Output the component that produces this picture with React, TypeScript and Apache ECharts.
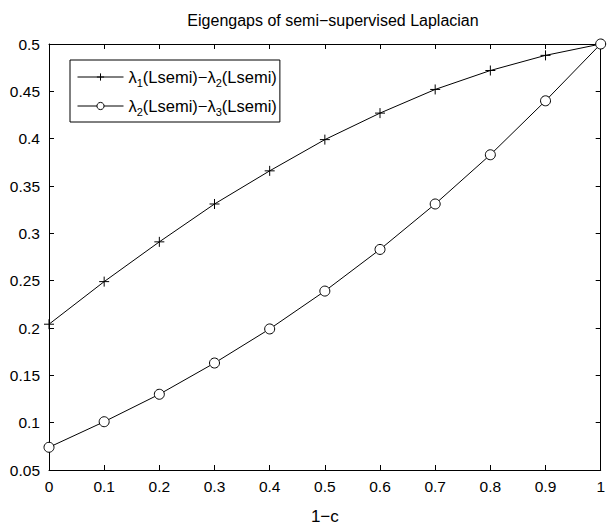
import React, { useEffect, useRef } from "react";
import * as echarts from "echarts";

const xValues = [0, 0.1, 0.2, 0.3, 0.4, 0.5, 0.6, 0.7, 0.8, 0.9, 1];
const gap12 = [0.204, 0.249, 0.291, 0.331, 0.366, 0.399, 0.427, 0.452, 0.472, 0.488, 0.5];
const gap23 = [0.074, 0.101, 0.130, 0.163, 0.199, 0.239, 0.283, 0.331, 0.383, 0.440, 0.5];
const seriesNames = ["λ1(Lsemi)−λ2(Lsemi)", "λ2(Lsemi)−λ3(Lsemi)"];
const legendRich = [
  "{t|λ}{s|1}{t|(Lsemi)−λ}{s|2}{t|(Lsemi)}",
  "{t|λ}{s|2}{t|(Lsemi)−λ}{s|3}{t|(Lsemi)}",
];
const titleText = "Eigengaps of semi−supervised Laplacian";
const xName = "1−c";

const FONT = "Liberation Sans, Arial, Helvetica, sans-serif";

function fmt(v: number) {
  return parseFloat(v.toFixed(2)).toString();
}

export default function App() {
  const ref = useRef<HTMLDivElement>(null);
  useEffect(() => {
    if (!ref.current) return;
    const chart = echarts.init(ref.current, undefined, { renderer: "svg" });
    const toPairs = (ys: number[]) => xValues.map((x, i) => [x, ys[i]]);
    const axisCommon = {
      type: "value" as const,
      axisLine: { show: true, onZero: false, lineStyle: { color: "#000", width: 1 } },
      axisTick: { show: true, inside: true, length: 5, lineStyle: { color: "#000" } },
      splitLine: { show: false },
    };
    chart.setOption({
      animation: false,
      backgroundColor: "#fff",
      title: {
        text: titleText,
        left: 328,
        textAlign: "center",
        top: 7,
        textStyle: { fontFamily: FONT, fontSize: 16, fontWeight: "normal", color: "#000" },
      },
      grid: { left: 49, right: 5, top: 44, bottom: 49, containLabel: false },
      xAxis: [
        {
          ...axisCommon,
          position: "bottom",
          min: 0,
          max: 1,
          interval: 0.1,
          name: xName,
          nameLocation: "middle",
          nameGap: 38,
          nameTextStyle: { fontFamily: FONT, fontSize: 17, color: "#000" },
          axisLabel: { fontFamily: FONT, fontSize: 15.5, color: "#000", margin: 8, formatter: fmt },
        },
        {
          ...axisCommon,
          position: "top",
          min: 0,
          max: 1,
          interval: 0.1,
          axisLabel: { show: false },
        },
      ],
      yAxis: [
        {
          ...axisCommon,
          position: "left",
          min: 0.05,
          max: 0.5,
          interval: 0.05,
          axisLabel: { fontFamily: FONT, fontSize: 15.5, color: "#000", margin: 9, formatter: fmt },
        },
        {
          ...axisCommon,
          position: "right",
          min: 0.05,
          max: 0.5,
          interval: 0.05,
          axisLabel: { show: false },
        },
      ],
      legend: {
        left: 70,
        top: 60,
        orient: "vertical",
        backgroundColor: "#fff",
        borderColor: "#000",
        borderWidth: 1,
        borderRadius: 0,
        padding: [6, 3, 5, 7],
        itemGap: 7,
        itemWidth: 46,
        itemHeight: 9,
        data: seriesNames,
        formatter: (name: string) => legendRich[seriesNames.indexOf(name)],
        lineStyle: { width: 1 },
        itemStyle: { borderWidth: 1 },
        textStyle: {
          fontFamily: FONT,
          color: "#000",
          rich: {
            t: { fontFamily: FONT, fontSize: 16.5, color: "#000", lineHeight: 22, verticalAlign: "middle" },
            s: { fontFamily: FONT, fontSize: 11, color: "#000", lineHeight: 22, padding: [11, 0, 0, 0] },
          },
        },
      },
      series: [
        {
          name: seriesNames[0],
          type: "line",
          data: toPairs(gap12),
          symbol: "path://M0,5L10,5M5,0L5,10",
          symbolSize: 10,
          lineStyle: { color: "#000", width: 1 },
          itemStyle: { color: "#000", borderColor: "#000", borderWidth: 1 },
        },
        {
          name: seriesNames[1],
          type: "line",
          data: toPairs(gap23),
          symbol: "circle",
          symbolSize: 10,
          lineStyle: { color: "#000", width: 1 },
          itemStyle: { color: "#fff", borderColor: "#000", borderWidth: 1 },
        },
      ],
    });
    return () => chart.dispose();
  }, []);
  return <div ref={ref} style={{ width: 608, height: 530, position: "absolute", left: 0, top: 0 }} />;
}
